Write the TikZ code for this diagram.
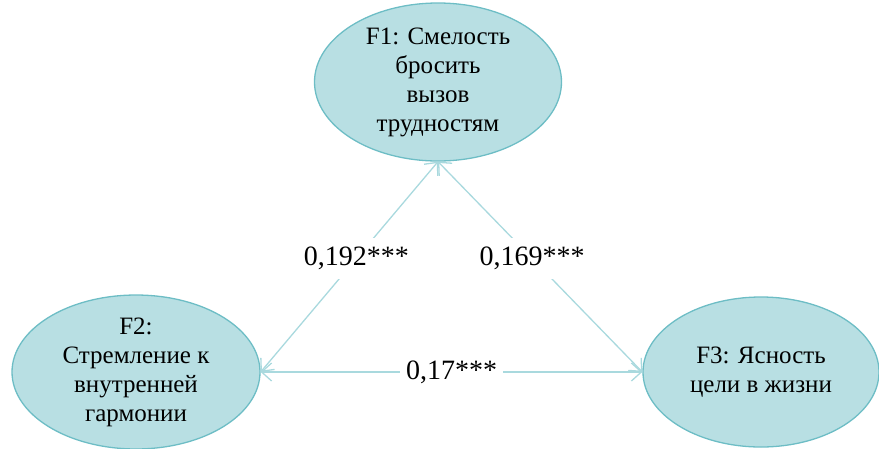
\documentclass[tikz,border=0pt]{standalone}
\usepackage{fontspec}
\setmainfont{Liberation Serif}
\usetikzlibrary{shapes.geometric,arrows.meta}
\definecolor{ovalFill}{HTML}{B8DFE3}
\definecolor{ovalLine}{HTML}{6DBDC5}
\definecolor{linkColor}{HTML}{A9D9DE}

\begin{document}
\begin{tikzpicture}[x=1pt,y=-1pt,
    factor/.style={ellipse,draw=ovalLine,fill=ovalFill,line width=1.3pt,inner sep=0pt,align=center,font=\fontsize{25}{29}\selectfont},
    link/.style={draw=linkColor,line width=1.3pt,{Straight Barb[length=10pt,width=18pt]}-{Straight Barb[length=10pt,width=18pt]}},
    coef/.style={fill=white,inner xsep=6pt,inner ysep=9pt,font=\fontsize{28}{32}\selectfont}]
    \clip (0,0) rectangle (879,448);

    %F1
    \node[factor,minimum width=247pt,minimum height=158pt] (f1) at (438,82) {F1: Смелость\\бросить\\вызов\\трудностям};

    %F2
    \node[factor,minimum width=248pt,minimum height=150pt] (f2) at (136,372) {F2:\\Стремление к\\внутренней\\гармонии};

    %F3
    \node[factor,minimum width=236pt,minimum height=150pt] (f3) at (761,372) {F3: Ясность\\цели в жизни};

    %LINKS
    \draw[link] (f2.east) -- (f1.south) node[coef,pos=0.54]{0,192***};
    \draw[link] (f1.south) -- (f3.west) node[coef,pos=0.46]{0,169***};
    \draw[link] (f2.east) -- (f3.west) node[coef,pos=0.5]{0,17***};
\end{tikzpicture}
\end{document}
